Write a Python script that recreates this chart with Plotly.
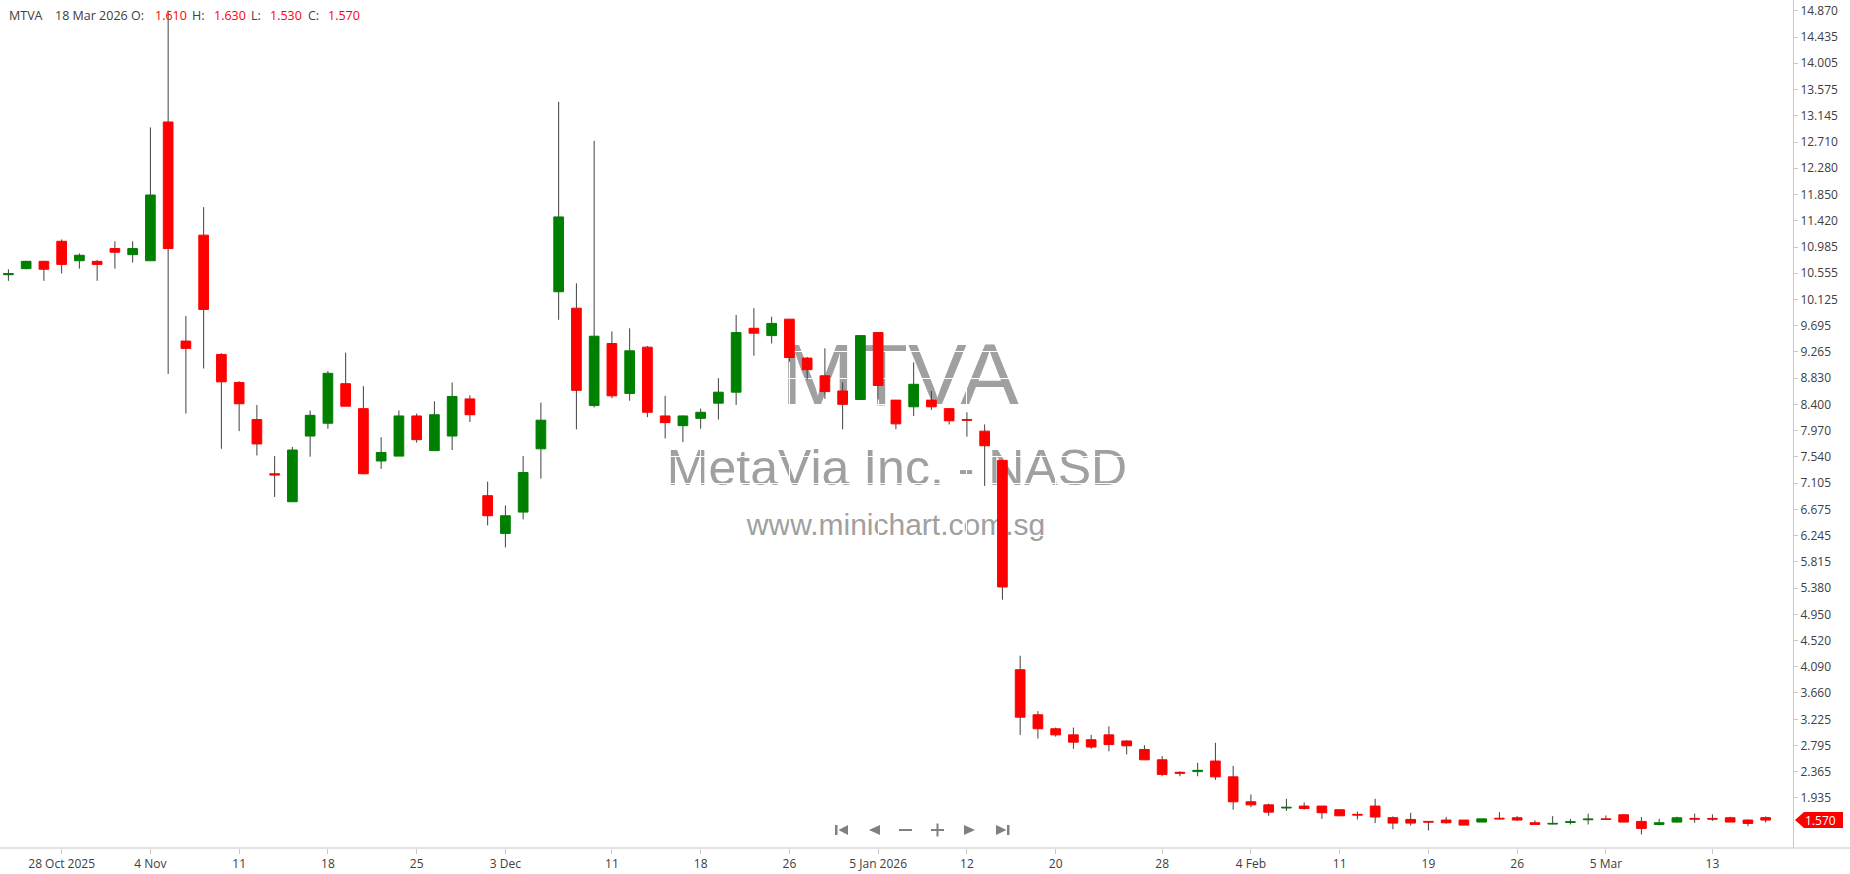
import plotly.graph_objects as go

# ---------------- data ----------------
symbol = "MTVA"
company = "MetaVia Inc. - NASD"
site = "www.minichart.com.sg"
last_label_date = "18 Mar 2026"

dates = [
    "2025-10-23", "2025-10-24", "2025-10-27", "2025-10-28", "2025-10-29", "2025-10-30", "2025-10-31",
    "2025-11-03", "2025-11-04", "2025-11-05", "2025-11-06", "2025-11-07", "2025-11-10", "2025-11-11",
    "2025-11-12", "2025-11-13", "2025-11-14", "2025-11-17", "2025-11-18", "2025-11-19", "2025-11-20",
    "2025-11-21", "2025-11-24", "2025-11-25", "2025-11-26", "2025-11-28",
    "2025-12-01", "2025-12-02", "2025-12-03", "2025-12-04", "2025-12-05", "2025-12-08", "2025-12-09",
    "2025-12-10", "2025-12-11", "2025-12-12", "2025-12-15", "2025-12-16", "2025-12-17", "2025-12-18",
    "2025-12-19", "2025-12-22", "2025-12-23", "2025-12-24", "2025-12-26", "2025-12-29", "2025-12-30",
    "2025-12-31",
    "2026-01-02", "2026-01-05", "2026-01-06", "2026-01-07", "2026-01-08", "2026-01-09", "2026-01-12",
    "2026-01-13", "2026-01-14", "2026-01-15", "2026-01-16", "2026-01-20", "2026-01-21", "2026-01-22",
    "2026-01-23", "2026-01-26", "2026-01-27", "2026-01-28", "2026-01-29", "2026-01-30",
    "2026-02-02", "2026-02-03", "2026-02-04", "2026-02-05", "2026-02-06", "2026-02-09", "2026-02-10",
    "2026-02-11", "2026-02-12", "2026-02-13", "2026-02-17", "2026-02-18", "2026-02-19", "2026-02-20",
    "2026-02-23", "2026-02-24", "2026-02-25", "2026-02-26", "2026-02-27",
    "2026-03-02", "2026-03-03", "2026-03-04", "2026-03-05", "2026-03-06", "2026-03-09", "2026-03-10",
    "2026-03-11", "2026-03-12", "2026-03-13", "2026-03-16", "2026-03-17", "2026-03-18",
]

opens = [
    10.53, 10.63, 10.75, 11.08, 10.76, 10.75, 10.96,
    10.86, 10.76, 13.04, 9.44, 11.18, 9.22, 8.76,
    8.15, 7.26, 6.80, 7.88, 8.09, 8.74, 8.33,
    7.47, 7.55, 8.21, 7.64, 7.88,
    8.49, 6.90, 6.28, 6.63, 7.67, 10.25, 9.98,
    8.38, 9.40, 8.58, 9.34, 8.21, 8.05, 8.17,
    8.42, 8.60, 9.65, 9.53, 9.80, 9.16, 8.87,
    8.62,
    8.48, 9.58, 8.47, 8.36, 8.47, 8.33, 8.15,
    7.96, 7.48, 4.04, 3.30, 3.07, 2.97, 2.89,
    2.97, 2.87, 2.73, 2.56, 2.355, 2.366,
    2.54, 2.28, 1.87, 1.82, 1.768, 1.80, 1.80,
    1.74, 1.664, 1.80, 1.61, 1.58, 1.548, 1.57,
    1.57, 1.537, 1.60, 1.608, 1.526,
    1.504, 1.531, 1.575, 1.59, 1.657, 1.548, 1.498,
    1.537, 1.597, 1.597, 1.608, 1.57, 1.61,
]

highs = [
    10.62, 10.76, 10.76, 11.11, 10.88, 10.77, 11.08,
    11.08, 12.95, 14.87, 9.85, 11.64, 9.24, 8.78,
    8.39, 7.55, 7.70, 8.30, 8.95, 9.25, 8.70,
    7.86, 8.30, 8.25, 8.45, 8.76,
    8.55, 7.13, 6.74, 7.55, 8.43, 13.37, 10.39,
    12.73, 9.60, 9.65, 9.36, 8.54, 8.22, 8.33,
    8.83, 9.87, 9.98, 9.84, 9.80, 9.18, 9.32,
    8.76,
    9.53, 9.59, 8.47, 9.09, 8.62, 8.34, 8.27,
    8.07, 7.48, 4.27, 3.36, 3.09, 3.09, 2.97,
    3.11, 2.88, 2.80, 2.62, 2.37, 2.51,
    2.84, 2.46, 1.99, 1.84, 1.92, 1.86, 1.80,
    1.74, 1.71, 1.92, 1.63, 1.69, 1.55, 1.62,
    1.57, 1.59, 1.70, 1.635, 1.565,
    1.635, 1.59, 1.675, 1.645, 1.668, 1.62, 1.59,
    1.625, 1.675, 1.665, 1.625, 1.58, 1.63,
]

lows = [
    10.43, 10.62, 10.43, 10.55, 10.63, 10.43, 10.63,
    10.73, 10.76, 8.90, 8.25, 8.99, 7.67, 7.96,
    7.56, 6.88, 6.80, 7.54, 8.00, 8.37, 7.25,
    7.34, 7.55, 7.77, 7.64, 7.65,
    8.11, 6.41, 6.05, 6.51, 7.18, 9.79, 7.99,
    8.35, 8.50, 8.46, 8.19, 7.84, 7.78, 8.00,
    8.15, 8.39, 9.20, 9.40, 9.10, 8.81, 8.49,
    7.99,
    8.48, 8.48, 7.99, 8.21, 8.31, 8.07, 7.87,
    7.06, 5.19, 2.97, 2.91, 2.94, 2.74, 2.74,
    2.70, 2.65, 2.56, 2.29, 2.29, 2.29,
    2.23, 1.74, 1.78, 1.64, 1.72, 1.74, 1.59,
    1.64, 1.58, 1.52, 1.42, 1.48, 1.40, 1.51,
    1.487, 1.535, 1.58, 1.555, 1.498,
    1.498, 1.498, 1.498, 1.575, 1.537, 1.335, 1.482,
    1.526, 1.526, 1.555, 1.537, 1.47, 1.53,
]

closes = [
    10.55, 10.75, 10.62, 10.70, 10.85, 10.70, 10.90,
    10.96, 11.84, 10.96, 9.32, 9.96, 8.77, 8.41,
    7.75, 7.24, 7.65, 8.22, 8.91, 8.37, 7.26,
    7.61, 8.21, 7.82, 8.23, 8.53,
    8.23, 6.57, 6.57, 7.28, 8.14, 11.48, 8.63,
    9.52, 8.54, 9.28, 8.27, 8.10, 8.21, 8.27,
    8.60, 9.58, 9.57, 9.73, 9.17, 8.97, 8.61,
    8.40,
    9.53, 8.71, 8.08, 8.73, 8.36, 8.13, 8.14,
    7.72, 5.40, 3.26, 3.07, 2.97, 2.85, 2.77,
    2.81, 2.79, 2.56, 2.32, 2.34, 2.387,
    2.28, 1.87, 1.82, 1.70, 1.779, 1.76, 1.69,
    1.64, 1.653, 1.62, 1.52, 1.52, 1.537, 1.526,
    1.487, 1.59, 1.59, 1.57, 1.498,
    1.515, 1.542, 1.586, 1.58, 1.537, 1.433, 1.526,
    1.608, 1.586, 1.586, 1.537, 1.515, 1.57,
]

x_tick_dates = [
    "2025-10-28", "2025-11-04", "2025-11-11", "2025-11-18", "2025-11-25", "2025-12-03",
    "2025-12-11", "2025-12-18", "2025-12-26", "2026-01-05", "2026-01-12", "2026-01-20",
    "2026-01-28", "2026-02-04", "2026-02-11", "2026-02-19", "2026-02-26", "2026-03-05", "2026-03-13",
]
x_tick_text = [
    "28 Oct 2025", "4 Nov", "11", "18", "25", "3 Dec",
    "11", "18", "26", "5 Jan 2026", "12", "20",
    "28", "4 Feb", "11", "19", "26", "5 Mar", "13",
]
y_tick_text = [
    "14.870", "14.435", "14.005", "13.575", "13.145", "12.710", "12.280", "11.850",
    "11.420", "10.985", "10.555", "10.125", "9.695", "9.265", "8.830", "8.400",
    "7.970", "7.540", "7.105", "6.675", "6.245", "5.815", "5.380", "4.950",
    "4.520", "4.090", "3.660", "3.225", "2.795", "2.365", "1.935",
]

# ---------------- styling constants ----------------
W, H = 1850, 874
PR = 1793          # plot right edge (px)
PB = 848           # plot bottom edge (px)
GREEN = "#008000"
RED = "#ff0000"
WICK = "#404040"
AXIS = "#c8c8c8"
TXT = "#404040"
WM = "#a0a0a0"
UI_FONT = "Open Sans"


def px_x(p):
    return p / PR


def px_y(p):
    return (PB - p) / PB


body_top = [max(o, c) for o, c in zip(opens, closes)]
body_bot = [min(o, c) for o, c in zip(opens, closes)]

wick_x, wick_y = [], []
for d, hi, lo, t, b in zip(dates, highs, lows, body_top, body_bot):
    wick_x += [d, d, None, d, d, None]
    wick_y += [hi, t, None, b, lo, None]

fig = go.Figure()
fig.add_trace(go.Candlestick(
    x=dates, open=opens, high=body_top, low=body_bot, close=closes,
    increasing=dict(line=dict(color=GREEN, width=1), fillcolor=GREEN),
    decreasing=dict(line=dict(color=RED, width=1), fillcolor=RED),
    whiskerwidth=0, showlegend=False, hoverinfo="skip",
))
fig.add_trace(go.Scatter(
    x=wick_x, y=wick_y, mode="lines", line=dict(color=WICK, width=1),
    showlegend=False, hoverinfo="skip", connectgaps=False,
))

shapes = []
# watermark (below grid so white gridlines cut through it)
for txt, cx, cy, size in [(symbol, 900, 366, 88), (company, 897, 463, 50), (site, 896, 521, 30)]:
    shapes.append(dict(
        type="rect", xref="paper", yref="paper", layer="below",
        x0=px_x(cx) - 0.0005, x1=px_x(cx) + 0.0005, y0=px_y(cy) - 0.0005, y1=px_y(cy) + 0.0005,
        line=dict(width=0), fillcolor="rgba(0,0,0,0)",
        label=dict(text=txt, textposition="middle center",
                   font=dict(family="Liberation Sans", size=size, color=WM)),
    ))
# bottom axis line across the full width
shapes.append(dict(type="line", xref="paper", yref="paper", x0=0, x1=W / PR, y0=0, y1=0,
                   line=dict(color=AXIS, width=1)))
# last price tag
last_close = closes[-1]
shapes.append(dict(type="path", xref="paper", yref="y", xsizemode="pixel", ysizemode="pixel",
                   xanchor=1, yanchor=last_close,
                   path="M 2,0 L 11,8 L 50,8 L 50,-8 L 11,-8 Z",
                   fillcolor=RED, line=dict(width=0)))


# navigation icons (bottom centre)
def icon_path(points):
    s = "M " + " L ".join(f"{x},{PB - y}" for x, y in points) + " Z"
    return s


icons = [
    [(835, 825), (837.5, 825), (837.5, 835), (835, 835)],
    [(848, 825), (848, 835), (838.5, 830)],
    [(880, 825), (880, 835), (869, 830)],
    [(899, 829), (912, 829), (912, 831), (899, 831)],
    [(931, 829), (944, 829), (944, 831), (931, 831)],
    [(936.5, 823.5), (938.5, 823.5), (938.5, 836.5), (936.5, 836.5)],
    [(964, 825), (964, 835), (975, 830)],
    [(996, 825), (996, 835), (1006.5, 830)],
    [(1007, 825), (1009.5, 825), (1009.5, 835), (1007, 835)],
]
for pts in icons:
    shapes.append(dict(type="path", xref="paper", yref="paper", xsizemode="pixel", ysizemode="pixel",
                       xanchor=0, yanchor=0, path=icon_path(pts),
                       fillcolor="#808080", line=dict(width=0)))

annotations = []
header = [
    (7, symbol, TXT),
    (53, last_label_date, TXT),
    (129, "O:", TXT), (153, f"{opens[-1]:.3f}", RED),
    (190, "H:", TXT), (212, f"{highs[-1]:.3f}", RED),
    (249, "L:", TXT), (268, f"{lows[-1]:.3f}", RED),
    (306, "C:", TXT), (326, f"{closes[-1]:.3f}", RED),
]
for x, t, col in header:
    annotations.append(dict(xref="paper", yref="paper", x=px_x(x), y=px_y(15), xanchor="left",
                            yanchor="middle", text=t, showarrow=False,
                            font=dict(family=UI_FONT, size=12.5, color=col)))
annotations.append(dict(xref="paper", yref="y", x=px_x(1821), y=last_close, xanchor="center",
                        yanchor="middle", text=f"{last_close:.3f}", showarrow=False,
                        font=dict(family=UI_FONT, size=12, color="white")))

fig.update_layout(
    width=W, height=H,
    margin=dict(l=0, r=W - PR, t=0, b=H - PB, pad=0),
    paper_bgcolor="white", plot_bgcolor="white",
    showlegend=False, hovermode=False, boxgap=0.22,
    shapes=shapes, annotations=annotations,
    xaxis=dict(
        type="category", range=[-0.473, 100.54], rangeslider=dict(visible=False),
        tickmode="array", tickvals=x_tick_dates, ticktext=x_tick_text,
        ticks="outside", ticklen=5, tickcolor=AXIS, showline=False,
        showgrid=True, gridcolor="white", gridwidth=1, zeroline=False,
        tickfont=dict(family=UI_FONT, size=12, color=TXT), fixedrange=True,
    ),
    yaxis=dict(
        side="right", range=[1.111, 15.044],
        tickmode="array", tickvals=[float(t) for t in y_tick_text], ticktext=y_tick_text,
        ticks="outside", ticklen=4, tickcolor=AXIS,
        showline=True, linecolor=AXIS, linewidth=1,
        showgrid=True, gridcolor="white", gridwidth=1, zeroline=False,
        tickfont=dict(family=UI_FONT, size=12, color=TXT), fixedrange=True,
    ),
)

fig.write_html("out.html", config={"displayModeBar": False},
               post_script="document.body.style.margin='0';document.body.style.overflow='hidden';")
